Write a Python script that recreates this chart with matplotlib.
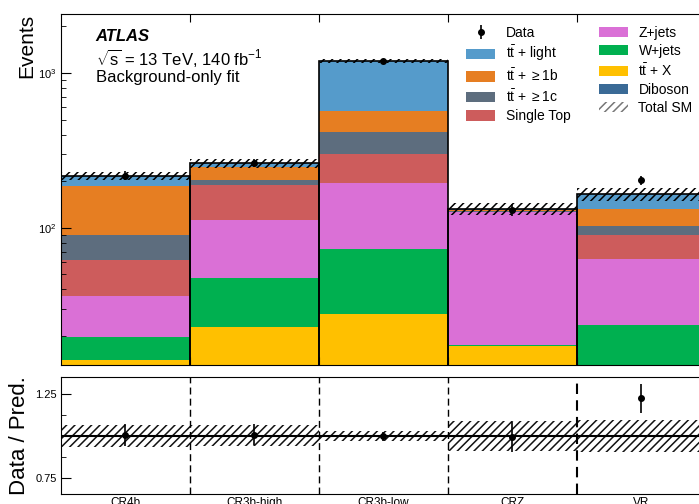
import matplotlib
matplotlib.use("Agg")
import matplotlib.pyplot as plt
import numpy as np
from matplotlib.patches import Patch

plt.rcParams['font.family'] = ['Liberation Sans', 'DejaVu Sans']
plt.rcParams['mathtext.fontset'] = 'custom'
plt.rcParams['mathtext.rm'] = 'Liberation Sans'
plt.rcParams['mathtext.it'] = 'Liberation Sans:italic'
plt.rcParams['mathtext.bf'] = 'Liberation Sans:bold'
plt.rcParams['hatch.linewidth'] = 1.1

# ---------------- data ----------------
regions = ["CR4b", "CR3b-high", "CR3b-low", "CRZ", "VR"]

diboson   = [0.6, 0.8, 2.0, 1.1, 0.5]
ttX       = [13.3, 22.1, 25.9, 16.1, 4.5]
wjets     = [5.9, 24.4, 45.4, 0.2, 18.4]
zjets     = [16.6, 65.3, 121.7, 108.6, 39.4]
singletop = [25.8, 77.4, 105.0, 0.8, 27.3]
tt1c      = [27.5, 14.0, 118.0, 0.6, 12.9]
tt1b      = [97.3, 42.0, 151.0, 3.0, 29.0]
ttlight   = [29.0, 15.0, 625.0, 1.5, 33.0]

data      = [217, 263, 1190, 131, 202]
data_err  = [14.7, 16.2, 34.5, 11.5, 14.2]
rel_unc   = [0.065, 0.062, 0.030, 0.090, 0.095]   # total SM relative uncertainty

stack_order = [
    ("Diboson", diboson, "#3a6a96"),
    ("ttX", ttX, "#ffc000"),
    ("W+jets", wjets, "#00b050"),
    ("Z+jets", zjets, "#da70d6"),
    ("Single Top", singletop, "#cd5c5c"),
    ("tt1c", tt1c, "#5d6d7e"),
    ("tt1b", tt1b, "#e67e22"),
    ("ttlight", ttlight, "#559bcb"),
]

# ---------------- figure ----------------
W, H = 699, 504
fig = plt.figure(figsize=(W / 100, H / 100), dpi=100)

def fx(px):
    return px / W

def fy(py):
    return 1 - py / H

left_px, right_px = 61, 706
ax = fig.add_axes([fx(left_px), fy(365), fx(right_px - left_px), (365 - 14) / H])
rax = fig.add_axes([fx(left_px), fy(494.3), fx(right_px - left_px), (494.3 - 377.3) / H])

nb = len(regions)
x_left = np.arange(nb)
centers = x_left + 0.5

bottom = np.zeros(nb)
handles = {}
for name, vals, col in stack_order:
    v = np.array(vals, dtype=float)
    ax.bar(x_left, v, width=1.0, bottom=bottom, align='edge', color=col,
           edgecolor='none', linewidth=0)
    handles[name] = Patch(facecolor=col, edgecolor='none')
    bottom = bottom + v
total = bottom

# uncertainty band
unc = total * np.array(rel_unc)
ax.bar(x_left, 2 * unc, width=1.0, bottom=total - unc, align='edge',
       fill=False, hatch='////', edgecolor='black', linewidth=0)
# outline
ax.bar(x_left, total, width=1.0, align='edge', fill=False,
       edgecolor='black', linewidth=1.2)

# data
ax.errorbar(centers, data, yerr=data_err, fmt='o', color='black',
            markersize=4, elinewidth=1.2, capsize=0, zorder=5)

ax.set_yscale('log')
ax.set_ylim(13, 2400)
ax.set_xlim(0, nb)
ax.set_xticks(np.arange(1, nb))
ax.tick_params(axis='x', which='both', direction='in', top=True, bottom=True,
               labelbottom=False, length=6)
ax.tick_params(axis='y', which='major', direction='in', length=7, labelsize=8, pad=3)
ax.tick_params(axis='y', which='minor', direction='in', length=3.5)
ax.set_ylabel("Events", fontsize=15, loc='top')
ax.yaxis.set_label_coords(-0.038, 1.0)

# text
ax.text(0.054, 0.935, "ATLAS", transform=ax.transAxes, fontsize=12,
        fontweight='bold', fontstyle='italic', va='center')
ax.text(0.054, 0.876, r"$\sqrt{\mathrm{s}}$ = 13 TeV, 140 fb$^{-1}$",
        transform=ax.transAxes, fontsize=12, va='center')
ax.text(0.054, 0.818, "Background-only fit", transform=ax.transAxes,
        fontsize=12, va='center')

# legend
eb = ax.errorbar([], [], yerr=[], fmt='o', color='black', markersize=4,
                 elinewidth=1.2, capsize=0)
tot_handle = Patch(facecolor='white', edgecolor='#777777', hatch='////', linewidth=0)
hl = [eb, handles["ttlight"], handles["tt1b"], handles["tt1c"], handles["Single Top"],
      handles["Z+jets"], handles["W+jets"], handles["ttX"], handles["Diboson"], tot_handle]
ll = ["Data", r"$\mathrm{t\bar{t}}$ + light", r"$\mathrm{t\bar{t}}$ + $\geq$1b",
      r"$\mathrm{t\bar{t}}$ + $\geq$1c", "Single Top",
      "Z+jets", "W+jets", r"$\mathrm{t\bar{t}}$ + X", "Diboson", "Total SM"]
ax.legend(hl, ll, ncol=2, loc='upper left', bbox_to_anchor=(0.628, 0.967),
          frameon=False, fontsize=10, handlelength=2.1, handleheight=0.75,
          handletextpad=0.75, columnspacing=2.05, labelspacing=0.3,
          borderpad=0, borderaxespad=0)

# ---------------- ratio panel ----------------
ratio = np.array(data) / total
ratio_err = np.array(data_err) / total
rax.bar(x_left, 2 * np.array(rel_unc), width=1.0, bottom=1 - np.array(rel_unc),
        align='edge', fill=False, hatch='////', edgecolor='#111111', linewidth=0)
rax.axhline(1.0, color='black', linewidth=1.5)
for e in range(1, nb):
    rax.axvline(e, color='black', linewidth=1.0 if e < nb - 1 else 1.5,
                linestyle=(0, (5, 3)))
rax.errorbar(centers, ratio, yerr=ratio_err, fmt='o', color='black',
             markersize=4, elinewidth=1.2, capsize=0, zorder=5)
rax.set_xlim(0, nb)
rax.set_ylim(0.65, 1.35)
rax.set_yticks([0.75, 1.25])
rax.set_yticklabels(["0.75", "1.25"])
rax.set_yticks([0.875, 1.0, 1.125], minor=True)
rax.tick_params(axis='y', which='major', direction='in', length=7, labelsize=8, pad=3)
rax.tick_params(axis='y', which='minor', direction='in', length=3.5)
rax.set_xticks(centers)
rax.set_xticklabels(regions, fontsize=8.5)
rax.tick_params(axis='x', which='both', length=0, pad=2)
rax.set_ylabel("Data / Pred.", fontsize=16)
rax.yaxis.set_label_coords(-0.048, 0.5)

fig.savefig("out.png", dpi=100)
